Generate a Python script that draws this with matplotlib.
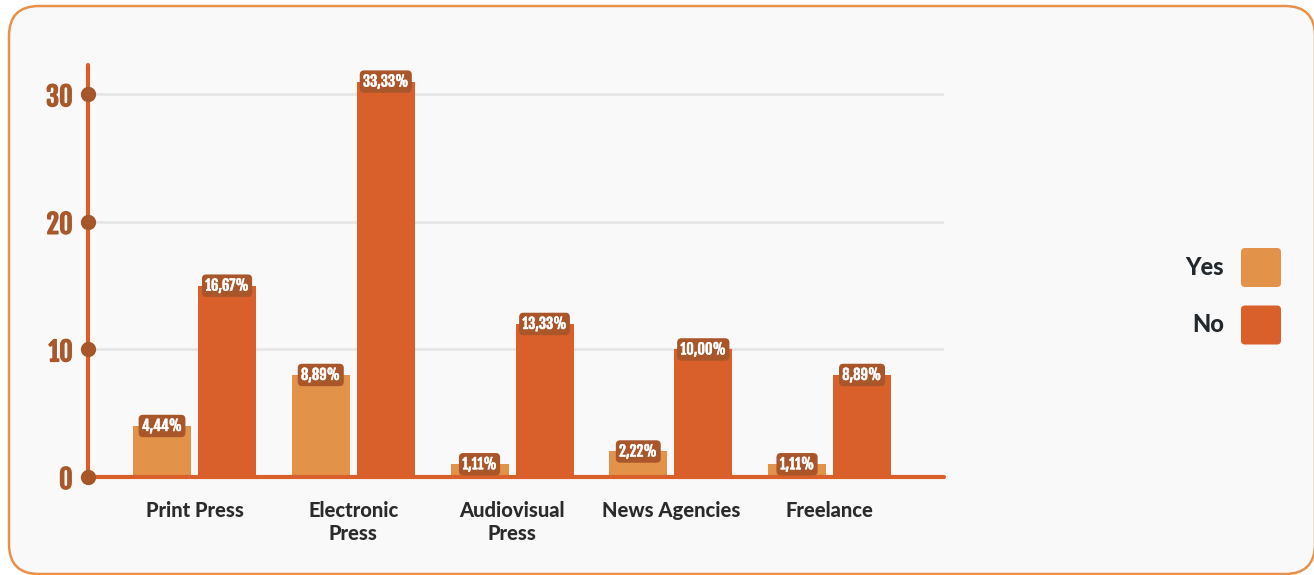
import matplotlib
matplotlib.use('Agg')
import matplotlib.pyplot as plt
import matplotlib.patheffects as pe
from matplotlib.patches import FancyBboxPatch
import numpy as np

categories = ['Print Press', 'Electronic\nPress', 'Audiovisual\nPress', 'News Agencies', 'Freelance']
series = ['Yes', 'No']
yes_values = [4, 8, 1, 2, 1]
no_values = [15, 31, 12, 10, 8]
yes_labels = ['4,44%', '8,89%', '1,11%', '2,22%', '1,11%']
no_labels = ['16,67%', '33,33%', '13,33%', '10,00%', '8,89%']
yticks = [0, 10, 20, 30]

YES_C = '#e3924a'
NO_C = '#d9602b'
BROWN = '#a8562a'
TICK_C = '#a8582b'
AXIS_C = '#d9602b'
COND = ['Fjalla One', 'Asap Condensed', 'DejaVu Sans']
SANS = ['Lato', 'DejaVu Sans']

W, H = 1314, 575
fig = plt.figure(figsize=(W / 100, H / 100), dpi=100)
fig.patch.set_facecolor('white')

card = FancyBboxPatch((9, 1), 1306, 568, boxstyle='round,pad=0,rounding_size=30',
                      transform=None, fc='#f9f9f9', ec='#e8914a', lw=1.8, zorder=-5)
fig.patches.append(card)

ax = fig.add_axes([88 / W, (H - 477) / H, (944 - 88) / W, (477 - 65) / H])
ax.set_facecolor('none')
ax.set_zorder(2)

x = np.arange(len(categories))
off = 0.2047
bw = 0.365
ax.bar(x - off, yes_values, bw, color=YES_C, zorder=3, label=series[0])
ax.bar(x + off, no_values, bw, color=NO_C, zorder=3, label=series[1])
ax.set_xlim(-0.671, 4.721)
ax.set_ylim(0, 32.3)

for xs, vals, labs in [(x - off, yes_values, yes_labels), (x + off, no_values, no_labels)]:
    for xi, v, lab in zip(xs, vals, labs):
        ax.text(xi, v, lab, ha='center', va='center', color='white', fontsize=10.5,
                family=COND, zorder=5,
                path_effects=[pe.withStroke(linewidth=0.4, foreground='white')],
                bbox=dict(boxstyle='round,pad=0.22,rounding_size=0.3', fc=BROWN, ec='none'))

for s in ['top', 'right']:
    ax.spines[s].set_visible(False)
for s in ['left', 'bottom']:
    ax.spines[s].set_color(AXIS_C)
    ax.spines[s].set_linewidth(3)
    ax.spines[s].set_capstyle('round')
    ax.spines[s].set_zorder(4)

ax.set_yticks(yticks)
ax.set_yticklabels([str(t) for t in yticks], family=COND,
                   fontsize=19, color=TICK_C)
for t in ax.get_yticklabels():
    t.set_path_effects([pe.withStroke(linewidth=0.9, foreground=TICK_C)])
ax.tick_params(axis='y', length=0, pad=11)
ax.yaxis.grid(True, color='#e6e6e6', lw=2, zorder=1)
ax.set_axisbelow(True)
ax.plot([ax.get_xlim()[0]] * len(yticks), yticks, 'o', color='#a65628', ms=10,
        clip_on=False, zorder=6)

ax.set_xticks(x)
ax.set_xticklabels(categories, family=SANS, fontweight='black', fontsize=14.5,
                   color='#2b2b2b', linespacing=1.3)
ax.tick_params(axis='x', length=0, pad=17)

for i, (name, col) in enumerate(zip(series, [YES_C, NO_C])):
    top = 248 + i * 57.5
    sq = FancyBboxPatch((1241, H - top - 39), 40, 39,
                        boxstyle='round,pad=0,rounding_size=4', transform=None,
                        fc=col, ec='none', zorder=3)
    fig.patches.append(sq)
    fig.text(1224 / W, (H - top - 19.5) / H, name, ha='right', va='center',
             family=SANS, fontweight='black', fontsize=17, color='#22282c')

fig.savefig('out.png', dpi=100, facecolor='white')
